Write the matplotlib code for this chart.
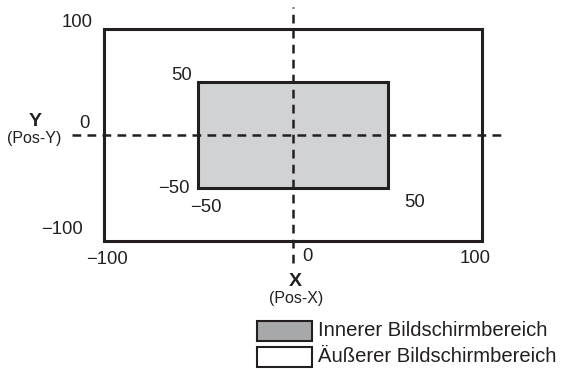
import matplotlib
matplotlib.use("Agg")
import matplotlib.pyplot as plt
from matplotlib.patches import Rectangle

plt.rcParams['font.family'] = ['Liberation Sans', 'DejaVu Sans']

# Bereiche (Pos-X / Pos-Y)
outer_x = [-100, 100]
outer_y = [-100, 100]
inner_x = [-50, 50]
inner_y = [-50, 50]

# Beschriftungen: Wert, Ankerpunkt, Versatz in Pixeln
y_ticks = ['100', '50', '0', '\u221250', '\u2212100']
y_anchor = [(-100, 100), (-50, 50), (-100, 0), (-50, -50), (-100, -100)]
y_offset = [(-11, 6), (-6, 6), (-14, 11), (-9, 0), (-21, 12)]

x_ticks = ['\u2212100', '\u221250', '0', '50', '100']
x_anchor = [(-100, -100), (-50, -50), (0, -100), (50, -50), (100, -100)]
x_offset = [(3, -18), (8, -19), (14, -15), (27, -14), (-7, -17)]

legend_labels = ['Innerer Bildschirmbereich', '\u00c4u\u00dferer Bildschirmbereich']
legend_colors = ['#a7a8aa', 'white']

W, H = 570, 370
fig = plt.figure(figsize=(W / 100, H / 100), dpi=100)
ax = fig.add_axes([0, 0, 1, 1])
ax.set_xlim(-154.8, 146.4)
ax.set_ylim(-221.0, 126.9)
ax.axis('off')

# Aeusserer Bereich
ax.add_patch(Rectangle((outer_x[0], outer_y[0]), outer_x[1] - outer_x[0], outer_y[1] - outer_y[0],
                       facecolor='white', edgecolor='#231f20', lw=2.2, zorder=1))
# Innerer Bereich
ax.add_patch(Rectangle((inner_x[0], inner_y[0]), inner_x[1] - inner_x[0], inner_y[1] - inner_y[0],
                       facecolor='#d1d2d4', edgecolor='#231f20', lw=2.2, zorder=2))

# Achsen (gestrichelt)
ax.plot([-117, 112], [0, 0], color='#231f20', lw=1.8, ls=(0, (3.5, 2.5)), zorder=3)
ax.plot([0, 0], [-120, 120], color='#231f20', lw=1.8, ls=(0, (3.5, 2.5)), zorder=3)

for s, a, o in zip(y_ticks, y_anchor, y_offset):
    ax.annotate(s, a, xytext=o, textcoords='offset pixels', ha='right', va='center',
                fontsize=13.3, color='#231f20')
for s, a, o in zip(x_ticks, x_anchor, x_offset):
    ax.annotate(s, a, xytext=o, textcoords='offset pixels', ha='center', va='center',
                fontsize=13.3, color='#231f20')

def px(x, y):
    return x / W, 1 - y / H

fig.text(*px(35, 122), 'Y', ha='center', va='center', fontsize=14, fontweight='bold', color='#231f20')
fig.text(*px(34, 139), '(Pos-Y)', ha='center', va='center', fontsize=11.5, color='#231f20')
fig.text(*px(295, 282), 'X', ha='center', va='center', fontsize=14, fontweight='bold', color='#231f20')
fig.text(*px(296, 299), '(Pos-X)', ha='center', va='center', fontsize=11.5, color='#231f20')

# Legende
for i, (lab, col) in enumerate(zip(legend_labels, legend_colors)):
    top = 321 + i * 26
    x0, y0 = px(257, top + 20)
    fig.add_artist(Rectangle((x0, y0), 55 / W, 20 / H, transform=fig.transFigure,
                             facecolor=col, edgecolor='#231f20', lw=1.5))
    fig.text(*px(318, top + 10), lab, ha='left', va='center', fontsize=14.6, color='#231f20')

fig.savefig('out.png', dpi=100)
